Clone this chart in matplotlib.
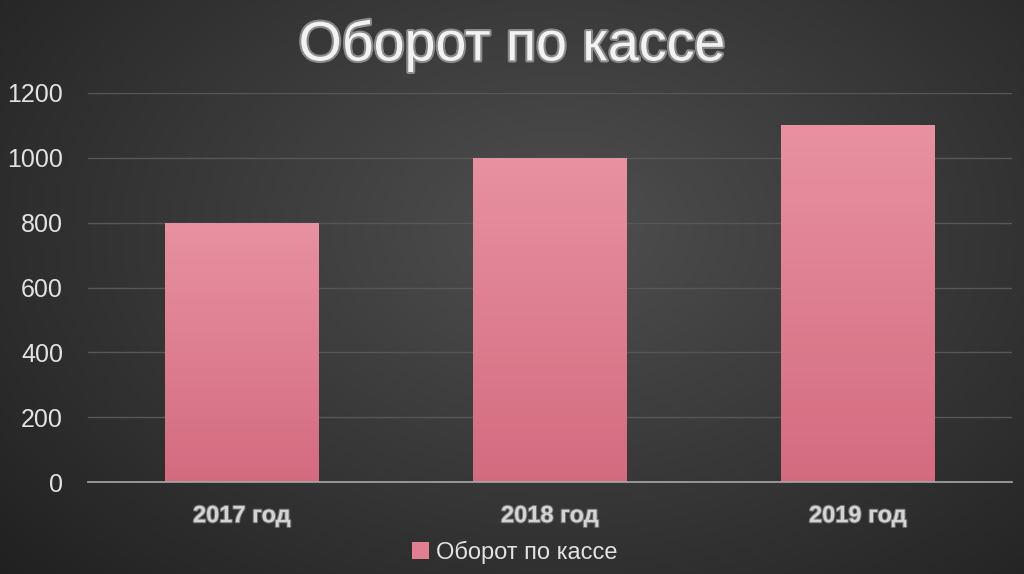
import numpy as np
import matplotlib.pyplot as plt
import matplotlib.patheffects as pe

categories = ["2017 год", "2018 год", "2019 год"]
values = [800, 1000, 1100]
series_name = "Оборот по кассе"
title = "Оборот по кассе"
yticks = [0, 200, 400, 600, 800, 1000, 1200]

plt.rcParams['font.family'] = ['Liberation Sans', 'DejaVu Sans']

fig = plt.figure(figsize=(10.24, 5.74), dpi=100)

# background radial gradient
bg = fig.add_axes([0, 0, 1, 1], zorder=-10)
h, w = 574, 1024
yy, xx = np.mgrid[0:h, 0:w]
r = np.sqrt(((xx - 560) / 620.0) ** 2 + ((yy - 230) / 420.0) ** 2)
val = 0.31 - 0.15 * np.clip(r, 0, 1.3)
img = np.dstack([val, val, val])
bg.imshow(np.clip(img, 0, 1), extent=[0, 1, 0, 1], aspect='auto', origin='upper')
bg.axis('off')

ax = fig.add_axes([88 / 1024, 1 - 482 / 574, 924 / 1024, (482 - 93) / 574])
ax.set_facecolor('none')
x = np.arange(len(categories))
bars = ax.bar(x, values, width=0.5, color='#e07f92', zorder=2, edgecolor='none')

# vertical gradient on bars
grad = np.linspace(0, 1, 256).reshape(-1, 1)
top = np.array([0.91, 0.57, 0.63])
bot = np.array([0.83, 0.42, 0.50])
gimg = top[None, None, :] * (1 - grad[:, :, None]) + bot[None, None, :] * grad[:, :, None]
for b in bars:
    x0, y0 = b.get_x(), b.get_y()
    im = ax.imshow(gimg, extent=[x0, x0 + b.get_width(), y0, y0 + b.get_height()],
                   aspect='auto', origin='upper', zorder=3)
    im.set_clip_path(b)

ax.set_xlim(-0.5, 2.5)
ax.set_ylim(0, 1200)
ax.set_yticks(yticks)
ax.grid(axis='y', color='#575757', linewidth=1, zorder=0)
ax.set_axisbelow(True)
for s in ['top', 'right', 'left']:
    ax.spines[s].set_visible(False)
ax.spines['bottom'].set_color('#a8a8a8')
ax.spines['bottom'].set_linewidth(1.2)
ax.spines['bottom'].set_zorder(4)
ax.tick_params(axis='both', length=0)
ax.tick_params(axis='y', labelsize=18, labelcolor='#e2e2e2', pad=18)
ax.set_xticks(x)
ax.set_xticklabels(categories, fontsize=17, fontweight='bold', color='#d4d4d4')
ax.tick_params(axis='x', pad=16)
for t in ax.get_xticklabels():
    t.set_path_effects([pe.Stroke(linewidth=1.5, foreground='#707070'), pe.Normal()])

fig.text(0.5, 1 - 46 / 574, title, ha='center', va='center', fontsize=40,
         color='#f2f2f2',
         path_effects=[pe.Stroke(linewidth=3, foreground='#8a8a8a'), pe.Normal()])

leg = ax.legend([bars[0]], [series_name], loc='center', bbox_to_anchor=(0.462, -0.18),
                frameon=False, fontsize=17, labelcolor='#e2e2e2',
                handlelength=0.7, handleheight=0.7, handletextpad=0.3)

fig.savefig('out.png', dpi=100)
